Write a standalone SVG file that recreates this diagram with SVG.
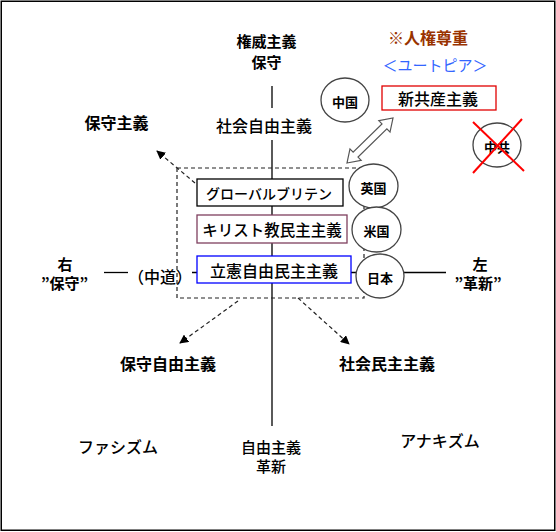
<svg xmlns="http://www.w3.org/2000/svg" width="556" height="532" viewBox="0 0 556 532">
<style>
text{font-family:"Noto Sans CJK JP","Noto Sans CJK SC",sans-serif;font-size:16px;font-weight:500;fill:#000;text-anchor:middle;dominant-baseline:central}
.b{font-weight:bold}
.s13{font-size:13px}
.two{font-size:15px}
.ax{stroke:#000;stroke-width:1.3;fill:none}
.dash{stroke:#222;stroke-width:1.2;stroke-dasharray:4 3;fill:none}
.box{fill:#fff;stroke-width:1.3}
.circ{fill:#fff;stroke:#444;stroke-width:1.3}
</style>
<defs>
<marker id="ah" viewBox="0 0 10 10" refX="9" refY="5" markerWidth="9" markerHeight="9" markerUnits="userSpaceOnUse" orient="auto">
<path d="M0,0 L10,5 L0,10 z" fill="#000"/>
</marker>
</defs>
<rect x="1.25" y="1.25" width="553.5" height="529" fill="#fff" stroke="#000" stroke-width="1.5"/>
<g id="connectors">
<line class="ax" x1="272" y1="86" x2="272" y2="108"/>
<line class="ax" x1="272" y1="140" x2="272" y2="426"/>
<line class="ax" x1="104" y1="272.5" x2="128" y2="272.5"/>
<line class="ax" x1="192" y1="272.5" x2="356" y2="272.5"/>
<line class="ax" x1="403" y1="272.5" x2="446" y2="272.5"/>
<rect class="dash" x="177" y="168" width="187" height="130"/>
<line class="dash" x1="195" y1="183" x2="157" y2="151" marker-end="url(#ah)"/>
<line class="dash" x1="238" y1="301" x2="180" y2="343" marker-end="url(#ah)"/>
<line class="dash" x1="298" y1="298" x2="349" y2="344" marker-end="url(#ah)"/>
<polygon points="347,163 361.16,160.32 358.02,157.11 386.88,128.89 390.02,132.10 393,118 378.84,120.68 381.98,123.89 353.12,152.11 349.98,148.90" fill="#fff" stroke="#555" stroke-width="1.2" stroke-linejoin="miter"/>
</g>
<g id="n-authoritarian"><text class="b two" x="266.5" y="40.5">権威主義</text><text class="b two" x="266.5" y="61">保守</text></g>
<g id="n-social-liberal"><text x="264" y="125">社会自由主義</text></g>
<g id="n-human-rights"><text class="b" x="428" y="37" style="fill:#993300">※人権尊重</text></g>
<g id="n-utopia"><text x="435" y="64" style="fill:#3366FF;font-size:15px;font-weight:400">＜ユートピア＞</text></g>
<g id="n-new-communism"><rect class="box" x="382" y="86" width="114" height="24" stroke="#e00000"/><text x="438" y="98">新共産主義</text></g>
<g id="n-china"><ellipse class="circ" cx="345" cy="100" rx="24" ry="22"/><text class="b s13" x="345" y="101">中国</text></g>
<g id="n-ccp"><ellipse class="circ" cx="497" cy="145" rx="24" ry="22"/><text class="b s13" x="497" y="146">中共</text><line x1="473" y1="122" x2="524" y2="171" stroke="#ff0000" stroke-width="2"/><line x1="522" y1="119" x2="473" y2="173" stroke="#ff0000" stroke-width="2"/></g>
<g id="n-conservatism"><text class="b" x="116.5" y="122">保守主義</text></g>
<g id="n-global-britain"><rect class="box" x="197" y="179" width="146" height="27" stroke="#000"/><text x="269" y="193" style="font-size:14px">グローバルブリテン</text></g>
<g id="n-christian-democracy"><rect class="box" x="197" y="215" width="150" height="28" stroke="#7f3f5f"/><text x="272" y="229" style="font-size:15.5px">キリスト教民主主義</text></g>
<g id="n-constitutional"><rect class="box" x="197" y="256" width="154" height="27" stroke="#0000ff"/><text x="274" y="270">立憲自由民主主義</text></g>
<g id="n-uk"><ellipse class="circ" cx="373.5" cy="186" rx="24.5" ry="22"/><text class="b s13" x="373.5" y="187">英国</text></g>
<g id="n-us"><ellipse class="circ" cx="376.5" cy="229.5" rx="24.5" ry="22.5"/><text class="b s13" x="376.5" y="230.5">米国</text></g>
<g id="n-japan"><ellipse class="circ" cx="380" cy="276" rx="24" ry="22"/><text class="b s13" x="380" y="277">日本</text></g>
<g id="n-right"><text class="b two" x="65" y="263">右</text><text class="b two" x="64.5" y="282">”保守”</text></g>
<g id="n-middle"><text x="160" y="276">（中道）</text></g>
<g id="n-left"><text class="b two" x="480" y="263">左</text><text class="b two" x="478" y="282">”革新”</text></g>
<g id="n-conservative-liberal"><text class="b" x="168" y="363">保守自由主義</text></g>
<g id="n-social-democracy"><text class="b" x="387" y="363">社会民主主義</text></g>
<g id="n-fascism"><text x="118" y="446">ファシズム</text></g>
<g id="n-liberalism"><text class="two" x="271" y="446">自由主義</text><text class="two" x="271" y="465">革新</text></g>
<g id="n-anarchism"><text x="440" y="440">アナキズム</text></g>
</svg>
